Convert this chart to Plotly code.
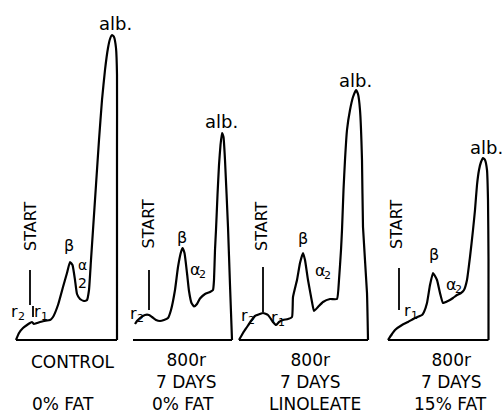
import plotly.graph_objects as go

W, H = 504, 417
BASE_PX = 340          # pixel row shared by the four strip baselines
FONT = "DejaVu Sans"

# Densitometer scans of serum electrophoresis strips.
# Distance along the strip (from its left end) and optical density above baseline.
CONTROL_DIST = [0, 3, 7, 11, 14, 16, 18, 21, 24, 28, 34, 37, 42, 47, 51, 54, 56.5, 59, 61, 64, 68, 71,
                73, 75, 77, 80, 83, 86, 89, 92, 94, 96, 98, 100, 101, 101, 101]
CONTROL_OD = [0, 7, 12, 15, 17, 18, 16, 17, 18, 19, 20, 23, 35, 53, 67, 78, 75, 60, 46, 41, 39, 40,
              50, 80, 110, 155, 200, 240, 270, 292, 301, 305, 303, 292, 265, 190, 0]

FAT0_DIST = [2, 4, 7, 12, 16, 19, 23, 27, 31, 35, 38, 42, 45, 48, 49.5, 51.5, 54, 56, 58.5, 61, 64, 67,
             72, 77, 80, 81, 82, 83, 84.5, 86, 87.5, 89, 90.5, 92, 95, 97, 99]
FAT0_OD = [16, 19, 22, 25, 25, 23, 20, 19, 20, 22, 30, 50, 73, 88, 92, 87, 67, 49, 37, 33.5, 36, 41.5,
           46, 48, 50, 60, 90, 110, 145, 175, 195, 207, 203, 180, 113, 55, 0]

LINOL_DIST = [0, 4, 8, 12, 16, 21, 24, 29, 34, 37, 40, 44, 49, 53, 54, 58, 61, 64, 66, 69, 73, 75, 79,
              84, 91, 98, 100, 102, 103, 104.5, 106, 108, 111, 114, 117, 119, 121, 123, 124, 128, 129]
LINOL_OD = [0, 7, 13, 19, 24, 26, 27, 25, 18, 15, 18, 20, 21, 23, 43, 60, 77, 87, 80, 60, 38, 29, 33,
            38, 41, 41, 60, 90, 110, 150, 180, 210, 230, 243, 250, 246, 230, 180, 113, 47, 0]

FAT15_DIST = [0, 4, 7, 14, 20, 27, 34, 36, 39, 42, 45, 49, 52, 55, 60, 65, 69, 73, 76, 79, 82, 85, 87,
              89, 91, 93, 95, 97, 99, 100, 100.5, 100.5]
FAT15_OD = [0, 6, 10, 15, 18, 22, 25, 28, 37, 55, 67, 60, 47, 37, 39, 42, 45, 47, 50, 60, 83, 110, 130,
            155, 170, 178, 182, 180, 170, 140, 80, 0]

SCANS = [(CONTROL_DIST, CONTROL_OD), (FAT0_DIST, FAT0_OD), (LINOL_DIST, LINOL_OD), (FAT15_DIST, FAT15_OD)]
STRIP_LEFT_PX = [16, 133, 239, 388]

# Application point ("START") on each strip: position and marker span (OD units)
START_POS = [14, 16, 24, 11]
START_SPAN = [(35, 70), (30, 70), (28, 73), (30, 72)]
START_TEXT_AT = [(14, 114), (14.5, 116), (22, 114), (8, 116)]

# Fraction labels: (symbol, subscript, dist, od, size)
FRACTION_LABELS = [
    [("alb.", "", 99, 317, 18), ("β", "", 53, 95, 16), ("α", "", 66, 75, 14), ("2", "", 66, 57, 14),
     ("r", "2", -2, 29, 16), ("r", "1", 21, 29, 16)],
    [("alb.", "", 88, 219, 18), ("β", "", 49, 103, 16), ("α", "2", 62, 71, 16), ("r", "2", 0, 27, 16)],
    [("alb.", "", 116, 260, 18), ("β", "", 64, 102, 16), ("α", "2", 81, 70, 16), ("r", "2", 5, 25, 16),
     ("r", "1", 35, 23, 16)],
    [("alb.", "", 98, 193, 18), ("β", "", 46, 86, 16), ("α", "2", 63, 56, 16), ("r", "1", 19, 30, 16)],
]

# Captions under each strip: (text, dist, od)
CAPTIONS = [
    [("CONTROL", 57, -22), ("0% FAT", 47, -64)],
    [("800r<br>7 DAYS", 53, -31), ("0% FAT", 50, -64)],
    [("800r<br>7 DAYS", 71, -31), ("LINOLEATE", 76, -64)],
    [("800r<br>7 DAYS", 63, -31), ("15% FAT", 62, -64)],
]

fig = go.Figure()
annotations = []
line = dict(color="black", width=2)


def label(xa, x, y, text, size, **kw):
    annotations.append(dict(x=x, y=y, xref=xa, yref="y", text=text, showarrow=False,
                            font=dict(family=FONT, size=size, color="black"), **kw))


for i, (dist, od) in enumerate(SCANS):
    xa = "x" if i == 0 else f"x{i + 1}"
    # scan curve
    fig.add_trace(go.Scatter(x=dist, y=od, mode="lines",
                             line=dict(color="black", width=2.2, shape="spline", smoothing=0.4),
                             xaxis=xa, yaxis="y", hoverinfo="skip", showlegend=False))
    # baseline
    fig.add_trace(go.Scatter(x=[0, max(dist)], y=[0, 0], mode="lines", line=line,
                             xaxis=xa, yaxis="y", hoverinfo="skip", showlegend=False))
    # start marker
    fig.add_trace(go.Scatter(x=[START_POS[i]] * 2, y=list(START_SPAN[i]), mode="lines",
                             line=dict(color="black", width=1.8),
                             xaxis=xa, yaxis="y", hoverinfo="skip", showlegend=False))
    sx, sy = START_TEXT_AT[i]
    label(xa, sx, sy, "START", 16, textangle=-90)
    for sym, sub, x, y, size in FRACTION_LABELS[i]:
        label(xa, x, y, sym, size)
        if sub:
            label(xa, x + 7, y - 5, sub, 11)
    for text, x, y in CAPTIONS[i]:
        label(xa, x, y, text, 17)

# tick mark beside r1 on the control strip
fig.add_trace(go.Scatter(x=[17, 17], y=[23, 34], mode="lines", line=dict(color="black", width=1.8),
                         xaxis="x", yaxis="y", hoverinfo="skip", showlegend=False))

layout = dict(
    width=W, height=H, margin=dict(l=0, r=0, t=0, b=0),
    paper_bgcolor="white", plot_bgcolor="white",
    yaxis=dict(range=[-(H - BASE_PX), BASE_PX], domain=[0, 1], visible=False, fixedrange=True),
    annotations=annotations, showlegend=False,
)
for i, left in enumerate(STRIP_LEFT_PX):
    key = "xaxis" if i == 0 else f"xaxis{i + 1}"
    ax = dict(range=[-left, W - left], domain=[0, 1], visible=False, anchor="y", fixedrange=True)
    if i > 0:
        ax["overlaying"] = "x"
    layout[key] = ax
fig.update_layout(**layout)

fig.write_html("out.html")
